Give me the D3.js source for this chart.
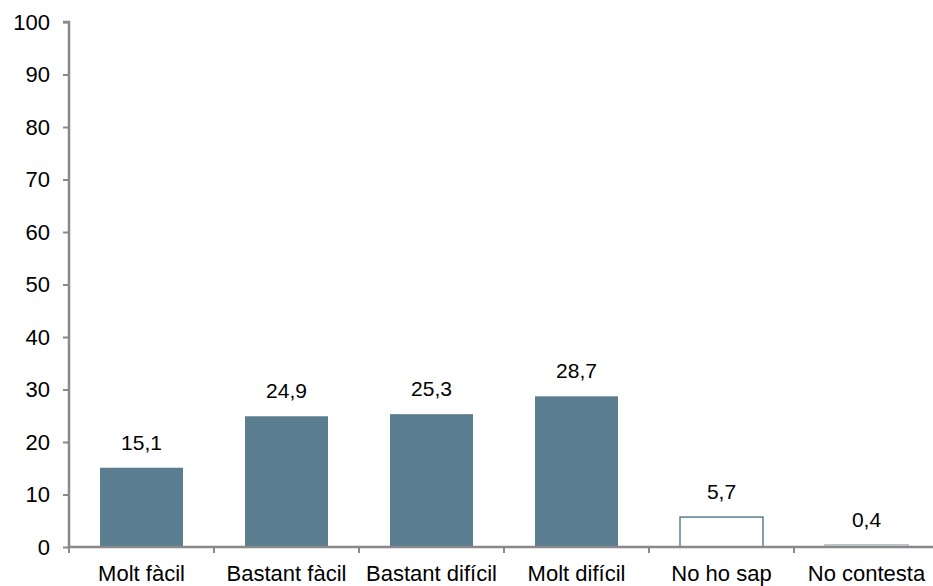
<!DOCTYPE html>
<html><head><meta charset="utf-8">
<script src="https://cdn.jsdelivr.net/npm/d3@7"></script>
<style>body{margin:0;background:#fff}svg{display:block}text{font-family:"Liberation Sans",Arial,sans-serif;fill:#000}</style>
</head><body>
<script>
const categories = ["Molt fàcil","Bastant fàcil","Bastant difícil","Molt difícil","No ho sap","No contesta"];
const values = [15.1,24.9,25.3,28.7,5.7,0.4];
const valueLabels = ["15,1","24,9","25,3","28,7","5,7","0,4"];
const barStyles = ["solid","solid","solid","solid","outline","faint"];
const yTicks = [0,10,20,30,40,50,60,70,80,90,100];

const W=933,H=586;
const svg=d3.select("body").append("svg").attr("width",W).attr("height",H);
const x0=69, x1=939, yTop=22, yBot=547;
const x=d3.scaleBand().domain(categories).range([x0,x1]).padding(0);
const y=d3.scaleLinear().domain([0,100]).range([yBot,yTop]);
const bw=83;
const FS=22;

// bars
svg.selectAll("rect.bar").data(categories).enter().append("rect")
 .attr("x",(d)=>x(d)+x.bandwidth()/2-bw/2)
 .attr("width",bw)
 .attr("y",(d,i)=>y(values[i]))
 .attr("height",(d,i)=>yBot-y(values[i]))
 .attr("fill",(d,i)=>barStyles[i]==="solid"?"#5b7d90":"#fff")
 .attr("stroke",(d,i)=>barStyles[i]==="solid"?"none":(barStyles[i]==="outline"?"#5b7d90":"#b0bcc4"))
 .attr("stroke-width",1.5);

// value labels
svg.selectAll("text.val").data(categories).enter().append("text")
 .attr("x",d=>x(d)+x.bandwidth()/2)
 .attr("y",(d,i)=>y(values[i])-18)
 .attr("text-anchor","middle").attr("font-size",21)
 .text((d,i)=>valueLabels[i]);

// y axis
const ya=svg.append("g").attr("transform",`translate(${x0},0)`)
 .call(d3.axisLeft(y).tickValues(yTicks).tickSize(6).tickPadding(13).tickFormat(d3.format("d")));
ya.select(".domain").attr("stroke","#898989").attr("stroke-width",2.5).attr("d",`M-6,${yTop}H0V${yBot}`);
ya.selectAll(".tick line").attr("stroke","#898989").attr("stroke-width",2);
ya.selectAll(".tick text").attr("font-size",FS).attr("font-family","Liberation Sans, Arial, sans-serif").attr("fill","#000");

// x axis
const xa=svg.append("g").attr("transform",`translate(0,${yBot})`)
 .call(d3.axisBottom(x).tickSize(0).tickPadding(18));
xa.select(".domain").attr("stroke","#898989").attr("stroke-width",2.5).attr("d",`M${x0},0H${x1}`);
xa.selectAll(".tick text").attr("font-size",FS).attr("font-family","Liberation Sans, Arial, sans-serif").attr("fill","#000");
// category separators
const seps = categories.map(c=>x(c)).concat([x1]);
svg.selectAll("line.sep").data(seps).enter().append("line")
 .attr("x1",d=>d).attr("x2",d=>d).attr("y1",yBot).attr("y2",yBot+6)
 .attr("stroke","#898989").attr("stroke-width",2);
</script>
</body></html>
